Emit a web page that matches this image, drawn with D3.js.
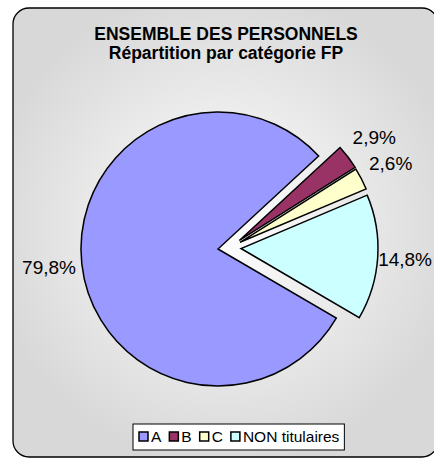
<!DOCTYPE html>
<html>
<head>
<meta charset="utf-8">
<script src="https://cdn.jsdelivr.net/npm/d3@7"></script>
<style>
  body { margin: 0; background: #fff; }
  text { font-family: "Liberation Sans", Arial, sans-serif; }
</style>
</head>
<body>
<div id="chart"></div>
<script>
// data
var categories = ["A", "B", "C", "NON titulaires"];
var values = [79.8, 2.9, 2.6, 14.8];
var labels = ["79,8%", "2,9%", "2,6%", "14,8%"];
var exploded = [false, true, true, true];
var titleLines = ["ENSEMBLE DES PERSONNELS", "Répartition par catégorie FP"];

var width = 434, height = 458;
var cx = 218, cy = 249, radius = 137;
var explode = 23;
var labelRadius = 170;

var svg = d3.select("#chart")
  .append("svg")
    .attr("width", width)
    .attr("height", height);

// background gradient
var defs = svg.append("defs");
var grad = defs.append("radialGradient")
  .attr("id", "bg")
  .attr("gradientUnits", "userSpaceOnUse")
  .attr("cx", 225).attr("cy", 225).attr("r", 240);
grad.append("stop").attr("offset", "0%").attr("stop-color", "#ffffff");
grad.append("stop").attr("offset", "100%").attr("stop-color", "#d8d8d8");

svg.append("rect")
  .attr("x", 13).attr("y", 8)
  .attr("width", 425).attr("height", 449)
  .attr("rx", 16).attr("ry", 16)
  .attr("fill", "url(#bg)")
  .attr("stroke", "black")
  .attr("stroke-width", 1.3);

// title
svg.append("text")
  .attr("x", 226)
  .attr("text-anchor", "middle")
  .style("font-weight", "bold")
  .style("font-size", "17.5px")
  .selectAll("tspan")
  .data(titleLines)
  .enter()
  .append("tspan")
    .attr("x", 226)
    .attr("y", function(d, i) { return 40 + i * 19; })
    .text(function(d) { return d; });

var color = d3.scaleOrdinal()
  .domain(categories)
  .range(["#9999ff", "#993366", "#ffffcc", "#ccffff"]);

var rad = Math.PI / 180;
var pie = d3.pie()
  .sort(null)
  .startAngle(120.3 * rad)
  .endAngle(480.3 * rad)
  .value(function(d) { return d; });
var data_ready = pie(values);

// direction for the exploded group
var groupStart = d3.min(data_ready.filter(function(d, i) { return exploded[i]; }), function(d) { return d.startAngle; });
var groupEnd = d3.max(data_ready.filter(function(d, i) { return exploded[i]; }), function(d) { return d.endAngle; });
var groupMid = (groupStart + groupEnd) / 2;

function offset(d, i) {
  if (!exploded[i]) return [0, 0];
  var mid = ((d.startAngle + d.endAngle) / 2 + groupMid) / 2;
  return [Math.sin(mid) * explode, -Math.cos(mid) * explode];
}

var arc = d3.arc().innerRadius(0).outerRadius(radius);

var g = svg.append("g")
  .attr("transform", "translate(" + cx + "," + cy + ")");

g.selectAll("path")
  .data(data_ready)
  .enter()
  .append("path")
    .attr("d", arc)
    .attr("transform", function(d, i) { return "translate(" + offset(d, i) + ")"; })
    .attr("fill", function(d, i) { return color(categories[i]); })
    .attr("stroke", "black")
    .attr("stroke-width", 1.5)
    .attr("stroke-linejoin", "miter");

g.selectAll("text.lbl")
  .data(data_ready)
  .enter()
  .append("text")
    .attr("class", "lbl")
    .attr("x", function(d, i) {
      var a = (d.startAngle + d.endAngle) / 2;
      return offset(d, i)[0] + Math.sin(a) * labelRadius;
    })
    .attr("y", function(d, i) {
      var a = (d.startAngle + d.endAngle) / 2;
      return offset(d, i)[1] - Math.cos(a) * labelRadius;
    })
    .attr("dy", "0.35em")
    .attr("text-anchor", "middle")
    .style("font-size", "19px")
    .text(function(d, i) { return labels[i]; });

// keep labels inside the window
g.selectAll("text.lbl").each(function() {
  var w = this.getComputedTextLength();
  var x = +this.getAttribute("x");
  var maxX = width - cx - 2 - w / 2;
  if (x > maxX) this.setAttribute("x", maxX);
});

// legend
var legend = svg.append("g");
var legendBox = legend.append("rect")
  .attr("fill", "white")
  .attr("stroke", "black")
  .attr("stroke-width", 1);

var lx = 139, ly = 437;
categories.forEach(function(c, i) {
  legend.append("rect")
    .attr("x", lx).attr("y", ly - 5)
    .attr("width", 9).attr("height", 9)
    .attr("fill", color(c))
    .attr("stroke", "black")
    .attr("stroke-width", 1.5);
  var t = legend.append("text")
    .attr("x", lx + 12).attr("y", ly)
    .attr("dy", "0.35em")
    .style("font-size", "15.5px")
    .text(c);
  lx += 12 + t.node().getComputedTextLength() + 8;
});
legendBox
  .attr("x", 133).attr("y", 424)
  .attr("width", lx - 133 - 3).attr("height", 26);
</script>
</body>
</html>
